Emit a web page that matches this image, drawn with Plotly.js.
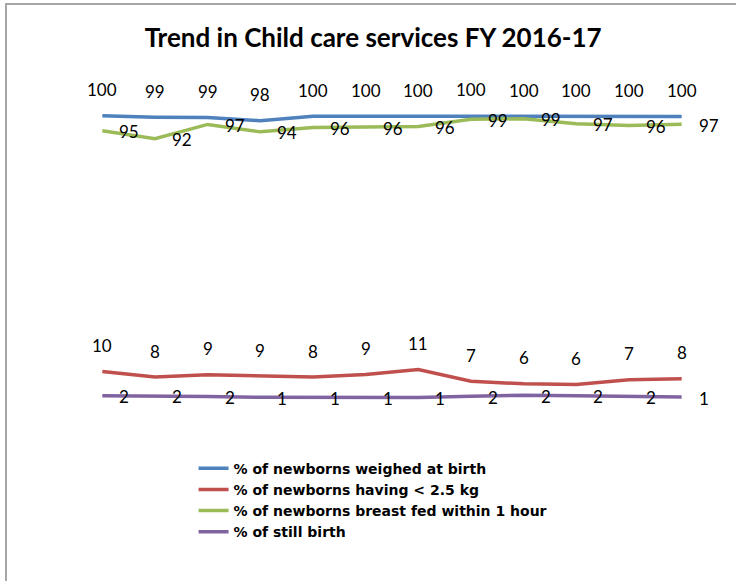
<!DOCTYPE html>
<html>
<head>
<meta charset="utf-8">
<script src="https://cdn.plot.ly/plotly-3.0.1.min.js"></script>
<style>
  html, body { margin: 0; padding: 0; background: #fff; }
  #wrap { position: relative; width: 736px; height: 581px; overflow: hidden; }
  #chart { position: absolute; left: 0; top: 0; width: 736px; height: 581px; }
  #frame { position: absolute; left: 5px; top: 3px; width: 740px; height: 600px;
           border-top: 2px solid #a6a6a6; border-left: 2px solid #a6a6a6; pointer-events: none; }
</style>
</head>
<body>
<div id="wrap">
  <div id="chart"></div>
  <div id="frame"></div>
</div>
<script>
// Months of FY 2016-17 (axis labels are not shown in the chart)
const months = ["Apr", "May", "Jun", "Jul", "Aug", "Sep", "Oct", "Nov", "Dec", "Jan", "Feb", "Mar"];

const weighedAtBirth = [99.8, 99.3, 99.2, 98.1, 99.7, 99.7, 99.7, 99.8, 99.7, 99.5, 99.7, 99.6];
const lowBirthWeight = [10.3, 8.4, 9.2, 8.7, 8.4, 9.3, 11.0, 6.9, 6.0, 5.8, 7.4, 7.8];
const breastFed1Hour = [94.6, 91.8, 96.8, 94.2, 95.7, 95.9, 96.1, 98.6, 98.8, 97.0, 96.4, 96.9];
const stillBirth = [1.8, 1.8, 1.6, 1.3, 1.3, 1.2, 1.2, 1.7, 2.0, 1.8, 1.6, 1.4];

const seriesNames = [
  "% of newborns weighed at birth",
  "% of newborns having < 2.5 kg",
  "% of newborns breast fed within 1 hour",
  "% of still birth"
];
const colors = ["#4F81BD", "#C0504D", "#9BBB59", "#8064A2"];
const seriesData = [weighedAtBirth, lowBirthWeight, breastFed1Hour, stillBirth];
const labelPos = ["above", "above", "right", "right"];

const FONT = "Lato, 'Open Sans', sans-serif";

const traces = seriesData.map((vals, i) => ({
  type: "scatter",
  mode: "lines",
  x: months,
  y: vals,
  name: seriesNames[i],
  line: { color: colors[i], width: 3.5 },
  hoverinfo: "skip"
}));

const annotations = [];
seriesData.forEach((vals, i) => {
  vals.forEach((v, j) => {
    const a = {
      x: months[j], y: v, xref: "x", yref: "y",
      text: String(Math.round(v)),
      showarrow: false,
      font: { family: FONT, size: 17, color: "#000" }
    };
    if (labelPos[i] === "above") {
      a.xanchor = "center"; a.yanchor = "middle"; a.yshift = 26;
    } else {
      a.xanchor = "left"; a.yanchor = "middle"; a.xshift = 15; a.yshift = -1;
    }
    annotations.push(a);
  });
});

const layout = {
  width: 736,
  height: 581,
  paper_bgcolor: "#ffffff",
  plot_bgcolor: "#ffffff",
  margin: { l: 76, r: 28, t: 101, b: 180 },
  title: {
    text: "<b>Trend in Child care services FY 2016-17</b>",
    font: { family: FONT, size: 26, color: "#000" },
    x: 0.507, xanchor: "center",
    y: 0.934, yanchor: "middle", yref: "container"
  },
  xaxis: {
    type: "category",
    range: [-0.5, 11.5],
    visible: false,
    fixedrange: true
  },
  yaxis: {
    range: [0, 105],
    visible: false,
    fixedrange: true
  },
  showlegend: true,
  legend: {
    orientation: "v",
    x: 0.186, xanchor: "left",
    y: -0.172, yanchor: "top",
    font: { family: "'DejaVu Sans', sans-serif", size: 14, color: "#000", weight: 700 },
    bgcolor: "rgba(0,0,0,0)",
    tracegroupgap: 0,
    itemclick: false, itemdoubleclick: false
  },
  annotations: annotations
};

Plotly.newPlot("chart", traces, layout, { displayModeBar: false, staticPlot: true });
</script>
</body>
</html>
